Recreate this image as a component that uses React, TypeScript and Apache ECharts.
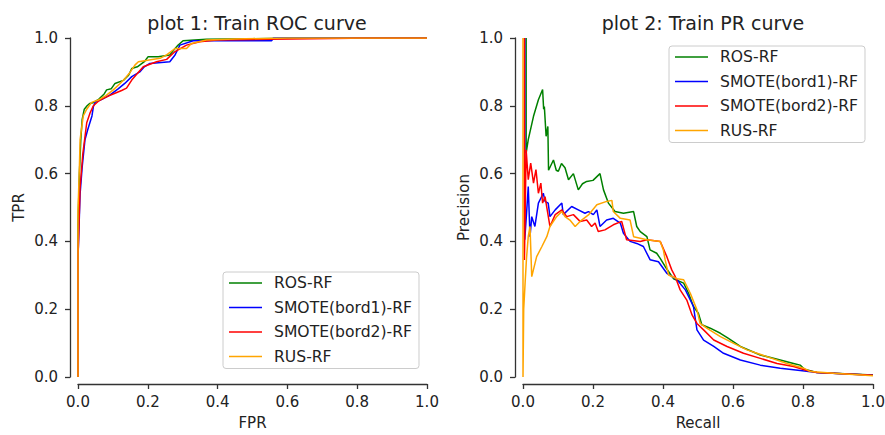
import React, { useEffect, useRef } from "react";
import * as echarts from "echarts";

const seriesNames = ["ROS-RF", "SMOTE(bord1)-RF", "SMOTE(bord2)-RF", "RUS-RF"];
const seriesColors = ["#008000", "#0000ff", "#ff0000", "#ffa500"];
const tickValues = [0, 0.2, 0.4, 0.6, 0.8, 1.0];

// ROC: [FPR, TPR]
const rocRos = [[0,0],[0,0.45],[0.004,0.6],[0.008,0.7],[0.012,0.76],[0.018,0.79],[0.026,0.8],[0.034,0.807],[0.045,0.81],[0.06,0.82],[0.075,0.835],[0.082,0.847],[0.095,0.85],[0.106,0.866],[0.13,0.875],[0.145,0.89],[0.154,0.91],[0.17,0.915],[0.19,0.93],[0.201,0.945],[0.23,0.945],[0.263,0.95],[0.275,0.965],[0.287,0.979],[0.301,0.992],[0.368,0.996],[0.5,0.998],[0.6,1],[1,1]];
const rocSmote1 = [[0,0],[0,0.35],[0.006,0.54],[0.012,0.62],[0.02,0.7],[0.028,0.73],[0.034,0.75],[0.04,0.77],[0.044,0.797],[0.049,0.81],[0.07,0.82],[0.092,0.832],[0.115,0.85],[0.134,0.866],[0.154,0.886],[0.177,0.9],[0.19,0.915],[0.206,0.925],[0.263,0.93],[0.278,0.95],[0.292,0.979],[0.33,0.992],[0.555,0.992],[0.56,1],[1,1]];
const rocSmote2 = [[0,0],[0,0.35],[0.006,0.56],[0.014,0.66],[0.025,0.75],[0.035,0.78],[0.044,0.8],[0.06,0.815],[0.073,0.822],[0.09,0.83],[0.106,0.837],[0.125,0.845],[0.139,0.852],[0.154,0.876],[0.17,0.895],[0.187,0.915],[0.225,0.93],[0.254,0.937],[0.278,0.96],[0.311,0.979],[0.349,0.989],[0.397,0.994],[0.55,0.996],[0.787,0.999],[0.79,1],[1,1]];
const rocRus = [[0,0],[0,0.49],[0.004,0.62],[0.006,0.7],[0.015,0.77],[0.025,0.79],[0.039,0.81],[0.058,0.817],[0.08,0.83],[0.101,0.847],[0.12,0.865],[0.134,0.88],[0.15,0.9],[0.163,0.92],[0.173,0.93],[0.235,0.94],[0.254,0.95],[0.278,0.969],[0.311,0.969],[0.325,0.984],[0.368,0.994],[0.45,0.997],[0.6,1],[1,1]];

// PR: [Recall, Precision]
const prRos = [[0.009,1.0],[0.009,0.66],[0.015,0.7],[0.03,0.769],[0.044,0.818],[0.056,0.848],[0.059,0.79],[0.061,0.798],[0.066,0.71],[0.071,0.739],[0.073,0.61],[0.087,0.64],[0.095,0.61],[0.101,0.607],[0.11,0.63],[0.12,0.617],[0.13,0.582],[0.144,0.6],[0.158,0.552],[0.17,0.57],[0.182,0.577],[0.2,0.58],[0.22,0.6],[0.23,0.552],[0.244,0.513],[0.263,0.488],[0.287,0.483],[0.316,0.488],[0.325,0.444],[0.335,0.429],[0.354,0.414],[0.363,0.375],[0.382,0.365],[0.392,0.35],[0.406,0.326],[0.43,0.29],[0.459,0.277],[0.473,0.247],[0.487,0.208],[0.501,0.188],[0.511,0.154],[0.535,0.144],[0.564,0.129],[0.587,0.114],[0.621,0.09],[0.678,0.065],[0.735,0.05],[0.773,0.04],[0.792,0.035],[0.804,0.023],[0.84,0.013],[1.0,0.006]];
const prSmote1 = [[0.005,1.0],[0.005,0.405],[0.01,0.48],[0.015,0.562],[0.02,0.414],[0.025,0.473],[0.034,0.444],[0.044,0.513],[0.058,0.542],[0.063,0.518],[0.072,0.513],[0.077,0.473],[0.092,0.493],[0.111,0.513],[0.115,0.479],[0.139,0.503],[0.158,0.493],[0.177,0.483],[0.187,0.488],[0.201,0.479],[0.211,0.493],[0.22,0.444],[0.239,0.463],[0.258,0.468],[0.278,0.454],[0.287,0.424],[0.306,0.4],[0.325,0.394],[0.344,0.385],[0.363,0.346],[0.387,0.34],[0.411,0.306],[0.44,0.287],[0.464,0.257],[0.487,0.208],[0.497,0.139],[0.516,0.109],[0.545,0.09],[0.573,0.07],[0.621,0.05],[0.678,0.035],[0.735,0.026],[0.792,0.019],[0.84,0.013],[1.0,0.005]];
const prSmote2 = [[0.004,1.0],[0.004,0.345],[0.009,0.67],[0.015,0.582],[0.022,0.631],[0.03,0.572],[0.037,0.612],[0.044,0.542],[0.051,0.572],[0.056,0.513],[0.063,0.532],[0.07,0.488],[0.077,0.444],[0.092,0.479],[0.111,0.493],[0.125,0.473],[0.144,0.479],[0.163,0.459],[0.182,0.463],[0.196,0.444],[0.206,0.454],[0.215,0.429],[0.234,0.434],[0.258,0.449],[0.282,0.459],[0.296,0.405],[0.335,0.4],[0.354,0.405],[0.392,0.4],[0.411,0.355],[0.425,0.316],[0.435,0.296],[0.449,0.257],[0.468,0.227],[0.483,0.183],[0.497,0.158],[0.516,0.139],[0.545,0.109],[0.583,0.09],[0.63,0.07],[0.678,0.055],[0.726,0.04],[0.773,0.031],[0.811,0.019],[0.84,0.013],[1.0,0.005]];
const prRus = [[0,1.0],[0,0],[0.002,0.2],[0.006,0.277],[0.01,0.35],[0.015,0.414],[0.02,0.444],[0.025,0.296],[0.039,0.355],[0.054,0.385],[0.068,0.414],[0.077,0.444],[0.096,0.473],[0.111,0.488],[0.12,0.473],[0.134,0.463],[0.149,0.444],[0.163,0.459],[0.187,0.478],[0.211,0.508],[0.239,0.518],[0.254,0.521],[0.258,0.488],[0.278,0.468],[0.306,0.463],[0.316,0.414],[0.354,0.405],[0.392,0.4],[0.401,0.375],[0.406,0.346],[0.416,0.301],[0.44,0.29],[0.459,0.287],[0.478,0.247],[0.497,0.198],[0.506,0.158],[0.525,0.144],[0.564,0.119],[0.602,0.099],[0.64,0.08],[0.697,0.06],[0.754,0.04],[0.802,0.026],[0.821,0.016],[0.888,0.011],[1.0,0.004]];

const rocData = [rocRos, rocSmote1, rocSmote2, rocRus];
const prData = [prRos, prSmote1, prSmote2, prRus];

const FONT = "DejaVu Sans";
const TEXT = "#222";
const AXIS = "#333";

function makeAxis(kind: "x" | "y", gridIndex: number, name: string) {
  return {
    type: "value",
    gridIndex,
    min: 0,
    max: 1,
    interval: 0.2,
    name,
    nameLocation: "middle",
    nameGap: kind === "x" ? 31 : 44,
    nameTextStyle: { fontFamily: FONT, fontSize: 15, color: TEXT },
    offset: kind === "x" ? 7 : 8,
    axisLine: { show: true, onZero: false, lineStyle: { color: AXIS, width: 1.3 } },
    axisTick: { show: true, length: 5, inside: false, lineStyle: { color: AXIS, width: 1.3 } },
    axisLabel: {
      fontFamily: FONT,
      fontSize: 15,
      color: TEXT,
      margin: kind === "x" ? 10 : 12,
      formatter: (v: number) => (tickValues.includes(Math.round(v * 10) / 10) ? v.toFixed(1) : ""),
    },
    splitLine: { show: false },
  };
}

function makeLegend(left: number, top: number) {
  return {
    left,
    top,
    orient: "vertical",
    data: seriesNames.map((n) => ({ name: n, icon: "rect" })),
    itemWidth: 33,
    itemHeight: 1.5,
    itemGap: 8.5,
    padding: [3, 7, 4, 6],
    borderColor: "#cccccc",
    borderWidth: 1,
    borderRadius: 3,
    backgroundColor: "rgba(255,255,255,0.85)",
    textStyle: { fontFamily: FONT, fontSize: 15.6, color: TEXT, lineHeight: 14, padding: [0, 0, 0, 7] },
    selectedMode: false,
  };
}

export default function App() {
  const ref = useRef<HTMLDivElement>(null);
  useEffect(() => {
    if (!ref.current) return;
    const chart = echarts.init(ref.current, null, { renderer: "svg" });
    const series: any[] = [];
    rocData.forEach((d, i) => {
      series.push({
        type: "line",
        name: seriesNames[i],
        xAxisIndex: 0,
        yAxisIndex: 0,
        data: d,
        symbol: "none",
        lineStyle: { color: seriesColors[i], width: 1.5 },
        itemStyle: { color: seriesColors[i] },
        z: 2 + i,
      });
    });
    prData.forEach((d, i) => {
      series.push({
        type: "line",
        name: seriesNames[i],
        xAxisIndex: 1,
        yAxisIndex: 1,
        data: d,
        symbol: "none",
        lineStyle: { color: seriesColors[i], width: 1.5 },
        itemStyle: { color: seriesColors[i] },
        z: 2 + i,
      });
    });
    chart.setOption({
      animation: false,
      backgroundColor: "#ffffff",
      title: [
        {
          text: "plot 1: Train ROC curve",
          left: 252,
          top: 8,
          textAlign: "center",
          textStyle: { fontFamily: FONT, fontSize: 19, fontWeight: "normal", color: TEXT },
        },
        {
          text: "plot 2: Train PR curve",
          left: 698,
          top: 8,
          textAlign: "center",
          textStyle: { fontFamily: FONT, fontSize: 19, fontWeight: "normal", color: TEXT },
        },
      ],
      legend: [makeLegend(223, 272), makeLegend(669, 46)],
      grid: [
        { left: 78, top: 38, width: 349, height: 339, containLabel: false, outerBoundsMode: "none" },
        { left: 523, top: 38, width: 350, height: 339, containLabel: false, outerBoundsMode: "none" },
      ],
      xAxis: [makeAxis("x", 0, "FPR"), makeAxis("x", 1, "Recall")],
      yAxis: [makeAxis("y", 0, "TPR"), makeAxis("y", 1, "Precision")],
      series,
    });
    return () => chart.dispose();
  }, []);
  return (
    <div
      ref={ref}
      style={{ position: "absolute", left: 0, top: 0, width: 885, height: 435 }}
    />
  );
}
